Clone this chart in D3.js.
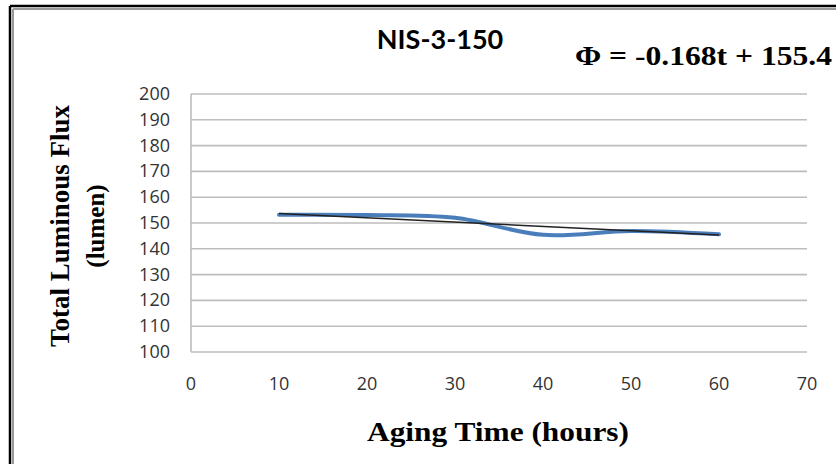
<!DOCTYPE html>
<html>
<head>
<meta charset="utf-8">
<script src="https://cdn.jsdelivr.net/npm/d3@7"></script>
<style>
body { margin: 0; background: #fff; }
</style>
</head>
<body>
<script>
var hours = [10, 20, 30, 40, 50, 60]
var flux = [153.2, 153.1, 152.0, 145.4, 146.9, 145.6]
var yTicks = [100, 110, 120, 130, 140, 150, 160, 170, 180, 190, 200]
var xTicks = [0, 10, 20, 30, 40, 50, 60, 70]
var slope = -0.168, intercept = 155.4

var w = 836
var h = 464

var svg = d3.select("body").append("svg")
   .attr("width", w)
   .attr("height", h)

// frame
svg.append("line").attr("x1", 10).attr("y1", 6).attr("x2", w).attr("y2", 6).attr("stroke", "#000").attr("stroke-width", 2.5)
svg.append("line").attr("x1", 10).attr("y1", 6).attr("x2", 10).attr("y2", h).attr("stroke", "#000").attr("stroke-width", 2.5)
svg.append("line").attr("x1", 13).attr("y1", 9).attr("x2", w).attr("y2", 9).attr("stroke", "#999").attr("stroke-width", 2)
svg.append("line").attr("x1", 13).attr("y1", 9).attr("x2", 13).attr("y2", h).attr("stroke", "#999").attr("stroke-width", 2)

var x = d3.scaleLinear().domain([0, 70]).range([191, 807])
var y = d3.scaleLinear().domain([100, 200]).range([352, 94])

// gridlines
svg.append("g").selectAll("line").data(yTicks).enter().append("line")
    .attr("x1", x(0)).attr("x2", x(70))
    .attr("y1", function(d) { return y(d) }).attr("y2", function(d) { return y(d) })
    .attr("stroke", "#bdbdbd").attr("stroke-width", 1.6)

svg.append("line").attr("x1", x(0)).attr("x2", x(0)).attr("y1", y(200)).attr("y2", y(100))
    .attr("stroke", "#bdbdbd").attr("stroke-width", 1.6)

// tick labels
svg.append("g").selectAll("text").data(yTicks).enter().append("text")
    .attr("x", 170).attr("y", function(d) { return y(d) + 6 })
    .attr("text-anchor", "end")
    .attr("font-family", "Open Sans").attr("font-size", 18).attr("fill", "#333")
    .text(function(d) { return d })

svg.append("g").selectAll("text").data(xTicks).enter().append("text")
    .attr("x", function(d) { return x(d) }).attr("y", 390)
    .attr("text-anchor", "middle")
    .attr("font-family", "Open Sans").attr("font-size", 18).attr("fill", "#333")
    .text(function(d) { return d })

// data line, smoothed like excel
var line = d3.line()
    .x(function(d, i) { return x(hours[i]) })
    .y(function(d) { return y(d) })
    .curve(d3.curveCatmullRom.alpha(0.5))

svg.append("path").datum(flux)
    .attr("d", line)
    .attr("fill", "none").attr("stroke", "#4a7ebb").attr("stroke-width", 4).attr("stroke-linecap", "round")

// linear trendline
var t0 = hours[0], t1 = hours[hours.length - 1]
svg.append("line")
    .attr("x1", x(t0)).attr("y1", y(slope * t0 + intercept))
    .attr("x2", x(t1)).attr("y2", y(slope * t1 + intercept))
    .attr("stroke", "#222").attr("stroke-width", 1.5)

// titles
svg.append("text").attr("x", 440).attr("y", 49).attr("text-anchor", "middle")
    .attr("font-family", "Lato").attr("font-weight", "bold").attr("font-size", 27)
    .text("NIS-3-150")

svg.append("text").attr("x", 575).attr("y", 65)
    .attr("textLength", 257).attr("lengthAdjust", "spacingAndGlyphs")
    .attr("font-family", "Liberation Serif").attr("font-weight", "bold").attr("font-size", 28)
    .text("\u03A6 = -0.168t + 155.4")

svg.append("text").attr("x", 498 - 131).attr("y", 441)
    .attr("textLength", 262).attr("lengthAdjust", "spacingAndGlyphs")
    .attr("font-family", "Liberation Serif").attr("font-weight", "bold").attr("font-size", 28)
    .text("Aging Time (hours)")

var yl = svg.append("text").attr("transform", "translate(69,226) rotate(-90)")
    .attr("text-anchor", "middle")
    .attr("font-family", "Liberation Serif").attr("font-weight", "bold").attr("font-size", 27)
yl.append("tspan").attr("x", 0).attr("dy", 0).text("Total Luminous Flux")
yl.append("tspan").attr("x", 0).attr("dy", 35).attr("font-size", 25).text("(lumen)")
</script>
</body>
</html>
